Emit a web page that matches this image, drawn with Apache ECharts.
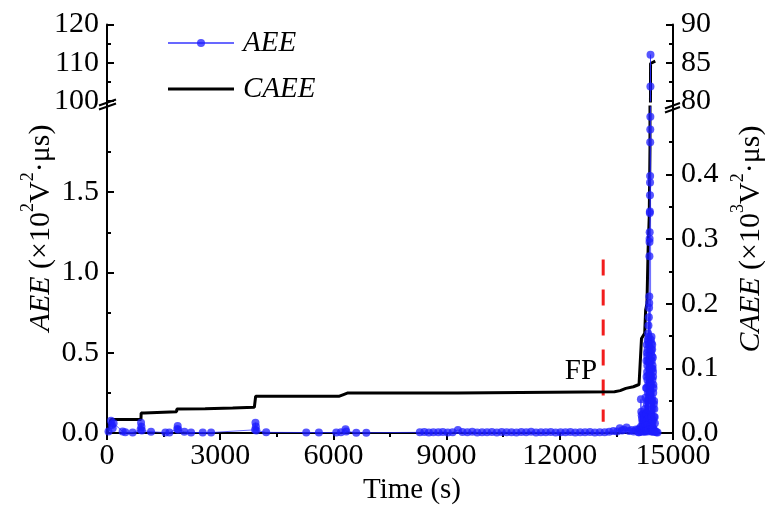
<!DOCTYPE html>
<html>
<head>
<meta charset="utf-8">
<script src="https://cdn.jsdelivr.net/npm/echarts@6/dist/echarts.min.js"></script>
<style>
  html, body { margin: 0; padding: 0; background: #fff; }
  #chart { width: 765px; height: 509px; }
</style>
</head>
<body>
<div id="chart"></div>
<script>
// Acoustic emission energy per hit (x10^2 V^2·us) against time (s), by stage
const earlyTime = [
  40, 106, 130, 150, 175, 414, 486, 680, 890, 902, 912, 925, 1167, 1547, 1653,
  1862, 1874, 1888, 2051, 2228, 2537, 2759, 3925, 3935, 3945, 3958, 4218, 5280,
  5615, 6076, 6200, 6322, 6340, 6606, 6872
];
const earlyValue = [
  0.01, 0.077, 0.05, 0.03, 0.06, 0.01, 0.004, 0.003, 0.02, 0.064, 0.039, 0.015, 0.008, 0.003, 0.003,
  0.025, 0.044, 0.02, 0.008, 0.003, 0.003, 0.003, 0.02, 0.064, 0.04, 0.015, 0.004, 0.003,
  0.003, 0.003, 0.004, 0.023, 0.01, 0.002, 0.002
];
const quietTime = [
  8290, 8410, 8530, 8650, 8780, 8900, 9030, 9160, 9300, 9420, 9550, 9680, 9810,
  9940, 10070, 10200, 10330, 10460, 10590, 10720, 10850, 10980, 11110, 11240,
  11370, 11500, 11630, 11760, 11890, 12020, 12150, 12280, 12410, 12540, 12670,
  12800, 12930, 13060, 13190, 13310, 13420, 13520, 13590, 13650, 13700, 13770,
  13840, 13900, 13960, 14020
];
const quietValue = [
  0.004, 0.006, 0.003, 0.005, 0.004, 0.007, 0.003, 0.005, 0.019, 0.006, 0.004, 0.008, 0.003,
  0.005, 0.004, 0.006, 0.003, 0.007, 0.004, 0.005, 0.003, 0.006, 0.004, 0.008,
  0.003, 0.005, 0.004, 0.006, 0.003, 0.005, 0.004, 0.007, 0.003, 0.005, 0.004,
  0.006, 0.003, 0.005, 0.004, 0.008, 0.012, 0.01, 0.03, 0.015, 0.02, 0.035,
  0.012, 0.018, 0.01, 0.022
];
const onsetTime = [
  14070, 14085, 14100, 14120, 14135, 14150, 14155, 14160, 14165, 14170, 14175,
  14180, 14185, 14190, 14200, 14205, 14210, 14215, 14220, 14225, 14232, 14236,
  14240, 14245, 14250, 14258, 14262, 14265, 14272, 14276, 14280, 14287, 14290, 14293
];
const onsetValue = [
  0.02, 0.004, 0.005, 0.03, 0.01, 0.21, 0.04, 0.133, 0.02, 0.11, 0.01,
  0.09, 0.03, 0.07, 0.02, 0.06, 0.12, 0.01, 0.05, 0.08, 0.02, 0.09,
  0.1, 0.01, 0.03, 0.15, 0.04, 0.01, 0.22, 0.03, 0.05, 0.28, 0.12, 0.02
];
const burstTime = [
  14296, 14298, 14300, 14302, 14304, 14306, 14308, 14310, 14312, 14314, 14316,
  14318, 14320, 14322, 14324, 14326, 14328, 14330, 14332, 14334, 14336, 14338,
  14340, 14342, 14344, 14346, 14348, 14350, 14352, 14354, 14356, 14358, 14360,
  14362, 14364, 14366, 14368, 14370,
  14372, 14375, 14378, 14380, 14382, 14385, 14387, 14390, 14392, 14394, 14396,
  14398, 14400, 14402, 14404,
  14406, 14408, 14410, 14412, 14414, 14416, 14418, 14420, 14422, 14424, 14426,
  14428, 14430, 14432, 14434, 14436, 14438, 14440, 14442, 14444, 14446, 14448,
  14450, 14452, 14454, 14456, 14458, 14460, 14462, 14464, 14466, 14468, 14470,
  14472, 14474, 14476, 14478, 14480, 14484, 14488, 14492, 14496, 14500, 14505,
  14510, 14515, 14520, 14540, 14560, 14590
];
const burstValue = [
  0.45, 0.12, 0.35, 0.02, 0.28, 0.55, 0.18, 0.5, 0.08, 0.38, 0.05,
  0.48, 0.42, 0.01, 0.33, 0.2, 0.52, 0.58, 0.15, 0.25, 0.03, 0.45,
  0.62, 0.05, 0.36, 0.3, 0.57, 0.67, 0.02, 0.44, 0.1, 0.6, 0.72,
  0.55, 0.22, 0.78, 0.4, 0.81,
  0.85, 1.10, 1.19, 1.21, 1.25, 1.37, 1.38, 1.48, 1.56, 1.6, 1.81,
  1.89, 1.97, 103.8, 112.1,
  0.45, 0.03, 0.58, 0.25, 0.05, 0.5, 0.35, 0.52, 0.01, 0.3, 0.12,
  0.56, 0.6, 0.1, 0.4, 0.02, 0.45, 0.48, 0.22, 0.03, 0.2, 0.52,
  0.55, 0.06, 0.33, 0.01, 0.42, 0.4, 0.15, 0.02, 0.47, 0.08, 0.38,
  0.35, 0.01, 0.25, 0.03, 0.3, 0.28, 0.02, 0.18, 0.1, 0.2, 0.15,
  0.01, 0.1, 0.06, 0.01, 0.005, 0.003
];

// Cumulative acoustic emission energy (x10^3 V^2·us)
const caeeTime = [
  0, 106, 900, 905, 985, 990, 1845, 1850, 2600, 3330, 3905, 3940, 6160, 6250,
  6385, 9290, 9300, 13450, 13600, 13750, 13950, 14100, 14140, 14165, 14250,
  14275, 14310, 14340, 14370, 14390, 14405, 14530
];
const caeeValue = [
  0, 0.021, 0.021, 0.031, 0.031, 0.033, 0.033, 0.037, 0.0375, 0.0385, 0.0397, 0.057, 0.057, 0.059,
  0.062, 0.062, 0.0638, 0.0638, 0.0655, 0.069, 0.0715, 0.075, 0.077, 0.146, 0.154,
  0.19, 0.2, 0.283, 0.334, 0.44, 84.9, 85.2
];

// Failure precursor marker
const fpTime = 13150;
const fpSpan = [1.08, 0.07];

// Axis tick values
const timeTicks = [0, 3000, 6000, 9000, 12000, 15000];
const aeeLowTicks = [0, 0.5, 1.0, 1.5];
const aeeHighTicks = [100, 110, 120];
const caeeLowTicks = [0, 0.1, 0.2, 0.3, 0.4];
const caeeHighTicks = [80, 85, 90];

const FONT = 'Liberation Serif';
const LABEL_SIZE = 30;
const zip = (xs, ys) => xs.map((x, i) => [x, ys[i]]);
const aeeData = [].concat(
  zip(earlyTime, earlyValue), zip(quietTime, quietValue),
  zip(onsetTime, onsetValue), zip(burstTime, burstValue)
);
const caeeData = zip(caeeTime, caeeValue);
const fpData = fpSpan.map(v => [fpTime, v]);

function yAxisCfg(grid, pos, min, max, interval, ticks, digits) {
  return {
    type: 'value', gridIndex: grid, position: pos, min: min, max: max, interval: interval,
    axisLine: { show: true, onZero: false, lineStyle: { color: '#000', width: 2 } },
    axisTick: { show: true, inside: true, length: 7, customValues: ticks,
      lineStyle: { color: '#000', width: 2 } },
    minorTick: { show: true, splitNumber: 2, length: 4, lineStyle: { color: '#000', width: 2 } },
    axisLabel: { customValues: ticks, margin: 8, formatter: v => v.toFixed(digits),
      fontFamily: FONT, fontSize: LABEL_SIZE, color: '#000' },
    splitLine: { show: false }, minorSplitLine: { show: false }
  };
}

const chart = echarts.init(document.getElementById('chart'), null, { renderer: 'canvas' });

const titleRich = {
  i: { fontFamily: FONT, fontStyle: 'italic', fontSize: 30, lineHeight: 44, fill: '#000' },
  n: { fontFamily: FONT, fontSize: 30, lineHeight: 44, fill: '#000' },
  s: { fontFamily: FONT, fontSize: 18, lineHeight: 14, verticalAlign: 'top', fill: '#000' }
};

const aeeStyle = {
  symbol: 'circle', symbolSize: 8, showSymbol: true, clip: true,
  itemStyle: { color: 'rgba(30,30,255,0.75)' },
  lineStyle: { color: 'rgba(40,40,255,0.7)', width: 1 }
};
const caeeStyle = {
  showSymbol: false, symbol: 'none', clip: true,
  itemStyle: { color: '#000' }, lineStyle: { color: '#000', width: 3 }
};

chart.setOption({
  animation: false,
  backgroundColor: '#fff',
  grid: [
    { left: 107, right: 92, top: 107, bottom: 76, outerBoundsMode: 'none' },
    { left: 107, right: 92, top: 24.5, height: 76.5, outerBoundsMode: 'none' }
  ],
  legend: {
    data: [
      { name: 'AEE' },
      { name: 'CAEE', icon: 'path://M0,0 L66,0 L66,3 L0,3 Z', itemStyle: { color: '#000' } }
    ],
    orient: 'vertical', left: 167, top: 28, padding: 0,
    itemWidth: 66, itemHeight: 10, itemGap: 16,
    textStyle: { fontFamily: FONT, fontStyle: 'italic', fontSize: 29, color: '#000',
      lineHeight: 30, padding: [0, 0, 0, 4] }
  },
  xAxis: [
    {
      type: 'value', gridIndex: 0, min: 0, max: 15000, interval: 3000,
      axisLine: { onZero: false, lineStyle: { color: '#000', width: 2 } },
      axisTick: { inside: false, length: 7, lineStyle: { color: '#000', width: 2 } },
      minorTick: { show: true, splitNumber: 2, length: 4, lineStyle: { color: '#000', width: 2 } },
      axisLabel: { customValues: timeTicks, margin: 8, formatter: v => String(v),
        fontFamily: FONT, fontSize: LABEL_SIZE, color: '#000' },
      splitLine: { show: false }
    },
    { type: 'value', gridIndex: 1, min: 0, max: 15000, interval: 3000, show: false }
  ],
  yAxis: [
    yAxisCfg(0, 'left', 0, 2.03, 0.5, aeeLowTicks, 1),
    yAxisCfg(0, 'right', 0, 0.504, 0.1, caeeLowTicks, 1),
    yAxisCfg(1, 'left', 100, 120, 10, aeeHighTicks, 0),
    yAxisCfg(1, 'right', 80, 90, 5, caeeHighTicks, 0)
  ],
  series: [
    {
      name: 'FP', type: 'line', xAxisIndex: 0, yAxisIndex: 0, data: fpData,
      symbol: 'none', silent: true,
      lineStyle: { color: '#f21c1c', width: 3, type: [16, 14] }
    },
    Object.assign({ name: 'CAEE', type: 'line', xAxisIndex: 0, yAxisIndex: 1, data: caeeData }, caeeStyle),
    Object.assign({ name: 'CAEE', type: 'line', xAxisIndex: 1, yAxisIndex: 3, data: caeeData }, caeeStyle),
    Object.assign({ name: 'AEE', type: 'line', xAxisIndex: 0, yAxisIndex: 0, data: aeeData }, aeeStyle),
    Object.assign({ name: 'AEE', type: 'line', xAxisIndex: 1, yAxisIndex: 2, data: aeeData }, aeeStyle)
  ],
  graphic: [
    // axis lines carried through the break band
    { type: 'line', z: 100, shape: { x1: 107, y1: 100, x2: 107, y2: 108 }, style: { stroke: '#000', lineWidth: 2 } },
    { type: 'line', z: 100, shape: { x1: 673, y1: 100, x2: 673, y2: 108 }, style: { stroke: '#000', lineWidth: 2 } },
    // break marks
    { type: 'line', z: 101, shape: { x1: 99, y1: 105.5, x2: 116, y2: 99.5 }, style: { stroke: '#000', lineWidth: 2 } },
    { type: 'line', z: 101, shape: { x1: 99, y1: 109.5, x2: 116, y2: 103.5 }, style: { stroke: '#000', lineWidth: 2 } },
    { type: 'line', z: 101, shape: { x1: 665, y1: 108.5, x2: 680, y2: 103 }, style: { stroke: '#000', lineWidth: 2 } },
    { type: 'line', z: 101, shape: { x1: 665, y1: 112.5, x2: 680, y2: 107 }, style: { stroke: '#000', lineWidth: 2 } },
    // axis titles
    {
      type: 'text', z: 100, x: 41, y: 228, rotation: Math.PI / 2,
      style: { text: '{i|AEE}{n| (\u00d710}{s|2}{n|V}{s|2}{n|\u00b7\u03bcs)}', rich: titleRich,
        align: 'center', verticalAlign: 'middle' }
    },
    {
      type: 'text', z: 100, x: 751, y: 239, rotation: Math.PI / 2,
      style: { text: '{i|CAEE}{n| (\u00d710}{s|3}{n|V}{s|2}{n|\u00b7\u03bcs)}', rich: titleRich,
        align: 'center', verticalAlign: 'middle' }
    },
    {
      type: 'text', z: 100, x: 412, y: 490,
      style: { text: 'Time (s)', fontFamily: FONT, fontSize: 29, fill: '#000',
        align: 'center', verticalAlign: 'middle' }
    },
    {
      type: 'text', z: 100, x: 581, y: 371,
      style: { text: 'FP', fontFamily: FONT, fontSize: 29, fill: '#000',
        align: 'center', verticalAlign: 'middle' }
    }
  ]
});
</script>
</body>
</html>
